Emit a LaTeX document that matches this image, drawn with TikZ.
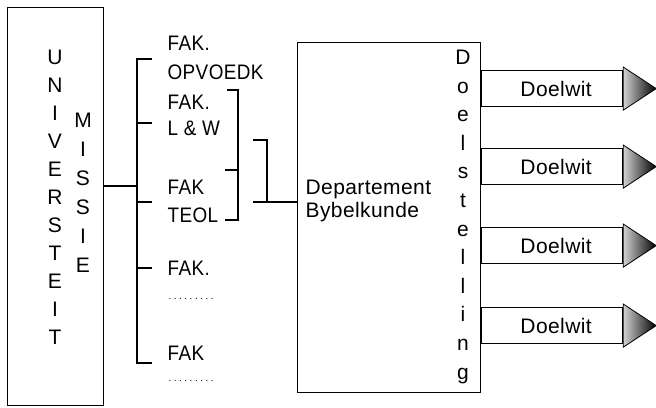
\documentclass[tikz,border=0pt]{standalone}
\usepackage{fontspec}
\setmainfont{Liberation Sans}[LetterSpace=2]
\newfontfamily\capfont{Liberation Sans}[LetterSpace=2,FakeStretch=0.9]
\newfontfamily\dotfont{Liberation Sans}[LetterSpace=25]
\begin{document}
\begin{tikzpicture}[x=1pt,y=-1pt,line width=1.2pt,
  txt/.style={inner sep=0pt,font=\fontsize{21}{21}\selectfont,text height=15pt,text depth=0pt},
  lbl/.style={txt,anchor=west},
  faclbl/.style={lbl,font=\capfont\fontsize{21}{21}\selectfont},
  vl/.style={txt,anchor=center},
  dots/.style={inner sep=0pt,anchor=west,font=\dotfont\fontsize{10}{10}\selectfont},
  box/.style={draw,inner sep=0pt,anchor=north west},
  goal/.style={draw,inner sep=0pt,minimum width=141pt,minimum height=36pt,anchor=north west,
    font=\fontsize{21}{21}\selectfont,text height=15pt,text depth=0pt},
  head/.style={draw,line width=0.8pt,left color=gray!35,right color=black}]
\useasboundingbox (0,0) rectangle (656,407);

% left box
\node[box,minimum width=96pt,minimum height=398pt] (univ) at (7,7) {};
\foreach \c [count=\i from 0] in {U,N,I,V,E,R,S,T,E,I,T}
  \node[vl] (u\i) at (55,57+28*\i) {\c};
\foreach \c [count=\i from 0] in {M,I,S,S,I,E}
  \node[vl] (m\i) at (83,120+29*\i) {\c};

% left bracket
\coordinate (j) at (137,186);
\coordinate (b1) at (137,59);
\coordinate (b2) at (137,123);
\coordinate (b3) at (137,202);
\coordinate (b4) at (137,268);
\coordinate (b5) at (137,363);
\coordinate (t1) at (152,59);
\coordinate (t2) at (152,123);
\coordinate (t3) at (152,202);
\coordinate (t4) at (152,268);
\coordinate (t5) at (152,363);
\draw (univ.east |- j) -- (j);
\draw (t1) -- (b1) -- (b5) -- (t5);
\draw (b2) -- (t2);
\draw (b3) -- (t3);
\draw (b4) -- (t4);

% faculty labels
\node[faclbl] (f1) at (167,43) {FAK.};
\node[faclbl] (f1b) at (167,72) {OPVOEDK};
\node[faclbl] (f2) at (167,102) {FAK.};
\node[faclbl] (f2b) at (167,128) {L \& W};
\node[faclbl] (f3) at (167,187) {FAK};
\node[faclbl] (f3b) at (167,215) {TEOL};
\node[faclbl] (f4) at (167,268) {FAK.};
\node[dots] (f4b) at (168,299) {.........};
\node[faclbl] (f5) at (167,353) {FAK};
\node[dots] (f5b) at (168,381) {.........};

% right bracket around L&W / TEOL
\coordinate (r1a) at (227,90);
\coordinate (r1b) at (238,90);
\coordinate (r1c) at (238,220);
\coordinate (r1d) at (225,220);
\coordinate (r1e) at (225,170);
\coordinate (r1f) at (238,170);
\draw (r1a) -- (r1b) -- (r1c) -- (r1d);
\draw (r1e) -- (r1f);

% department
\node[box,minimum width=183pt,minimum height=350pt] (dept) at (297,42) {};
\coordinate (s1) at (253,140);
\coordinate (s2) at (267,140);
\coordinate (s3) at (267,202);
\coordinate (s4) at (253,202);
\draw (s1) -- (s2) -- (s3);
\draw (s4) -- (dept.west |- s4);
\node[lbl] (dt1) at (305,187) {Departement};
\node[lbl] (dt2) at (305,210) {Bybelkunde};
\foreach \c [count=\i from 0] in {D,o,e,l,s,t,e,l,l,i,n,g}
  \node[vl] (ds\i) at (463,57+28.6*\i) {\c};

% goals
\foreach \y [count=\i] in {70,148,227,307} {
  \node[goal] (g\i) at (481,\y) {\hspace{8pt}Doelwit};
  \path[head] ([yshift=3pt]g\i.north east) -- ([xshift=33pt]g\i.east) -- ([yshift=-3pt]g\i.south east) -- cycle;
}
\end{tikzpicture}
\end{document}
